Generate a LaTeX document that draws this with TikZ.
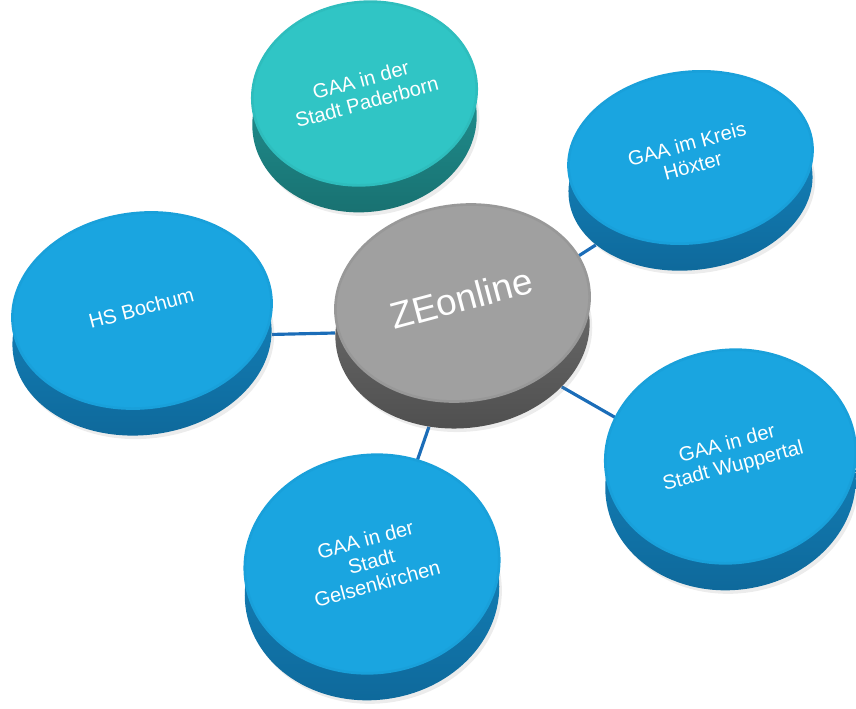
\documentclass[tikz,border=0pt]{standalone}
\usepackage{fontspec}
\usepackage{graphicx}
\setmainfont{Liberation Sans}
\usetikzlibrary{positioning, shapes.geometric, shadows, backgrounds}

\definecolor{discblue}{RGB}{26,165,224}
\definecolor{bluerimtop}{RGB}{22,138,196}
\definecolor{bluerimbot}{RGB}{14,104,154}
\definecolor{discteal}{RGB}{48,197,197}
\definecolor{tealrimtop}{RGB}{36,158,158}
\definecolor{tealrimbot}{RGB}{24,112,112}
\definecolor{discgray}{RGB}{160,160,160}
\definecolor{grayrimtop}{RGB}{120,120,120}
\definecolor{grayrimbot}{RGB}{78,78,78}
\definecolor{linkblue}{RGB}{27,109,184}

\newcommand{\disclabel}[1]{\rotatebox{8}{\begin{tabular}{@{}c@{}}#1\end{tabular}}}

\begin{document}
\begin{tikzpicture}[disc/.style={ellipse, rotate=7, inner sep=0pt},
                    base/.style={disc, top color=#1rimtop, bottom color=#1rimbot,
                                 drop shadow={shadow xshift=1.5pt, shadow yshift=-2pt, opacity=.15}},
                    face/.style={disc, fill=disc#1, draw=#1rimtop!20!disc#1, line width=1.5pt,
                                 text=white, font=\fontsize{11.5}{13}\selectfont},
                    link/.style={draw=linkblue, line width=1.8pt}]
            \useasboundingbox (0,0) rectangle (17.12,14.16);

            % GAA Paderborn
            \node[base=teal, minimum width=4.5cm, minimum height=3.66cm] (paderborn-base) at (7.29,11.75) {};
            \node[face=teal, minimum width=4.5cm, minimum height=3.66cm] (paderborn) at (7.29,12.29)
                {\disclabel{GAA in der\\Stadt Paderborn}};

            % GAA Hoexter
            \node[base=blue, minimum width=4.9cm, minimum height=3.42cm] (hoexter-base) at (13.81,10.47) {};
            \node[face=blue, minimum width=4.9cm, minimum height=3.42cm] (hoexter) at (13.81,11.01)
                {\disclabel{GAA im Kreis\\Höxter}};

            % HS Bochum
            \node[base=blue, minimum width=5.2cm, minimum height=3.9cm] (bochum-base) at (2.84,7.41) {};
            \node[face=blue, minimum width=5.2cm, minimum height=3.9cm] (bochum) at (2.84,7.95)
                {\disclabel{HS Bochum}};

            % GAA Wuppertal
            \node[base=blue, minimum width=5.02cm, minimum height=4.26cm] (wuppertal-base) at (14.61,4.49) {};
            \node[face=blue, minimum width=5.02cm, minimum height=4.26cm] (wuppertal) at (14.61,5.03)
                {\disclabel{GAA in der\\Stadt Wuppertal}};

            % GAA Gelsenkirchen
            \node[base=blue, minimum width=5.1cm, minimum height=4.36cm] (gelsenkirchen-base) at (7.44,2.34) {};
            \node[face=blue, minimum width=5.1cm, minimum height=4.36cm] (gelsenkirchen) at (7.44,2.88)
                {\disclabel{GAA in der\\Stadt\\Gelsenkirchen}};

            % ZEonline (centre)
            \node[base=gray, minimum width=5.1cm, minimum height=3.92cm] (zeonline-base) at (9.25,7.56) {};
            \node[face=gray, minimum width=5.1cm, minimum height=3.92cm, font=\fontsize{21}{24}\selectfont] (zeonline) at (9.25,8.1)
                {\disclabel{ZEonline}};

            % Connections
            \begin{scope}[on background layer]
                \draw[link] (zeonline-base) -- (bochum-base);
                \draw[link] (zeonline-base) -- (hoexter-base);
                \draw[link] (zeonline-base) -- (wuppertal-base);
                \draw[link] (zeonline-base) -- (gelsenkirchen-base);
            \end{scope}
        \end{tikzpicture}
\end{document}
